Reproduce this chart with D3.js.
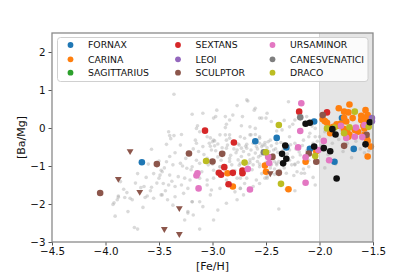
<!DOCTYPE html>
<html>
<head>
<meta charset="utf-8">
<script src="https://cdn.jsdelivr.net/npm/d3@7"></script>
<style>
  body { margin: 0; background: #fff; }
  text { font-family: "DejaVu Sans", sans-serif; }
</style>
</head>
<body>
<div id="chart"></div>
<script>
// Dados: pares [Fe/H, Ba/Mg]
const fornax = [[-3.66,-0.90],[-2.60,-0.35],[-2.40,-0.26],[-2.31,-0.51],[-2.09,-0.55],[-2.05,0.17],
  [-1.86,-0.89],[-1.68,-0.55],[-1.79,0.26],[-1.56,0.15]];
const carina = [[-2.86,-1.19],[-2.81,-1.54],[-2.51,-0.99],[-2.50,-1.15],[-2.29,-1.61],[-2.13,-0.89],
  [-2.03,-0.61],[-1.97,0.23],[-1.95,0.18],[-1.93,0.14],[-1.82,0.52],[-1.77,0.43],[-1.72,0.62],
  [-1.73,0.41],[-1.57,0.47],[-1.55,0.34],[-1.58,0.27],[-1.54,0.24],[-1.57,0.17],[-1.61,0.32],
  [-1.61,0.21],[-1.77,0.27],[-1.75,0.17],[-1.91,0.01],[-1.87,0.03],[-1.83,0.06],[-1.80,0.12],
  [-1.77,-0.03],[-1.74,-0.10],[-1.66,-0.01],[-1.64,-0.10],[-1.67,-0.05],[-1.59,0.06],[-1.58,-0.01],
  [-1.73,-0.23],[-1.72,-0.18],[-1.58,-0.18],[-1.56,-0.27],[-1.55,-0.34],[-1.55,-0.75],[-1.52,-0.49],
  [-1.90,-0.14],[-1.69,0.26],[-1.84,0.10]];
const sagittarius = [];
const sextans = [[-3.07,-0.07],[-2.80,-0.38],[-2.89,-1.03],[-2.94,-1.18],[-2.92,-1.23],[-2.81,-1.18],
  [-2.72,-1.12],[-2.72,-1.19],[-2.85,-1.48],[-2.19,0.43],[-1.93,0.41]];
const leoI = [[-1.51,0.18],[-1.51,0.26]];
const sculptor = [[-4.05,-1.71],[-3.52,-0.95],[-3.22,-0.67],[-2.91,-0.68],[-3.00,-0.88],[-2.44,-0.76],
  [-2.38,-1.18],[-2.10,-0.67],[-2.03,-0.89],[-1.97,0.34],[-1.77,-0.47],[-1.56,-0.18]];
// limites superiores (triângulos)
const sculptorLimits = [[-3.77,-0.61],[-3.88,-1.34],[-3.68,-1.68],[-3.31,-2.11],[-3.45,-2.66],
  [-3.31,-2.79],[-2.46,-1.19]];
const ursaMinor = [[-3.14,-1.19],[-3.15,-1.25],[-3.13,-1.59],[-2.67,-1.08],[-2.65,-1.62],[-2.48,-0.76],
  [-2.47,-0.92],[-2.18,-0.08],[-2.20,-0.51],[-2.17,0.65],[-2.13,-0.77],[-2.13,-1.44],[-2.01,-0.58],
  [-1.96,-0.34],[-1.91,-0.85],[-1.80,0.06],[-1.66,0.01],[-1.58,0.08],[-1.67,-0.23],[-1.75,-0.26],
  [-1.60,-0.24]];
const canesVenatici = [[-2.52,-0.64],[-2.18,0.28]];
const draco = [[-3.06,-0.87],[-2.70,-0.91],[-2.50,-0.64],[-2.38,0.08],[-2.36,-1.47],[-2.04,-0.74],
  [-1.93,-0.01],[-1.86,0.01],[-1.67,0.43],[-1.72,0.02],[-1.54,0.03],[-1.77,-0.14]];
// estrelas pretas (sem legenda)
const otherStars = [[-2.32,-0.46],[-2.35,-0.68],[-2.31,-0.81],[-2.34,-0.93],[-2.13,0.11],[-2.09,0.14],
  [-2.05,-0.49],[-1.96,-0.53],[-1.90,-0.61],[-1.84,-1.33],[-1.85,-0.17],[-1.57,-0.43],[-1.53,0.15],
  [-1.88,-0.03]];
// amostra de fundo (cinza claro)
const background = [
  [-3.57,-0.56],[-3.50,-0.87],[-3.86,-1.41],[-3.83,-1.61],[-3.64,-1.54],[-3.67,-1.57],[-3.88,-1.79],
  [-3.88,-1.82],[-3.82,-1.83],[-3.77,-1.85],[-3.75,-1.89],[-3.89,-1.89],[-3.92,-1.97],[-3.93,-2.01],
  [-3.61,-1.79],[-3.63,-1.83],[-3.57,-1.56],[-3.55,-1.85],[-3.79,-2.20],[-3.65,-2.09],[-3.91,-2.32],
  [-3.73,-2.62],[-3.70,-2.66],[-3.50,-1.32],[-3.49,-1.24],[-3.48,-1.11],[-3.48,-1.76],[-3.37,-2.03],
  [-3.26,-2.42],[-3.19,-1.94],[-3.23,-2.20],[-3.12,-2.66],
  [-3.36,0.89],[-3.19,0.36],[-2.97,0.30],[-2.77,0.59],[-2.67,0.71],[-2.61,0.47],[-2.72,0.30],
  [-2.56,0.26],[-2.50,0.26],[-2.84,0.21],[-2.87,0.10],[-2.88,0.01],[-2.73,0.06],[-2.65,0.03],
  [-2.60,-0.01],[-3.41,-0.10],[-3.40,-0.20],[-3.36,-0.20],[-3.43,-0.43],[-3.29,-0.17],[-3.15,-0.01],
  [-3.12,-0.10],[-3.02,-0.26],[-3.00,-0.36],[-2.98,-0.34],[-3.03,-0.40],[-2.98,-0.47],[-3.16,-0.32],
  [-3.15,-0.40],[-2.87,-0.32],[-2.84,-0.18],[-2.88,-0.18],[-2.70,-0.27],[-2.68,-0.43],[-2.75,-0.45],
  [-2.73,-0.53],[-2.64,-0.18],[-2.60,-0.17],[-2.56,-0.23],[-2.56,-0.40],[-2.54,-0.49],[-2.51,-0.45],
  [-2.48,-0.36],
  [-2.68,0.74],[-2.29,0.69],[-2.54,0.26],[-2.60,0.52],[-2.88,0.30],[-2.96,0.47],[-2.99,0.26],
  [-2.81,0.34],[-2.49,0.39],[-2.45,0.17],[-2.35,-0.05],[-2.28,0.03],[-2.23,0.21],[-2.18,-0.10],
  [-2.09,-0.14],[-2.04,-0.01],[-2.00,-0.23],[-3.09,0.39],[-3.14,0.06],[-3.39,-0.28],
  [-3.43,-0.89],[-3.37,-0.97],[-3.30,-0.93],[-3.24,-1.06],[-3.19,-1.02],[-3.12,-0.93],[-3.04,-0.97],
  [-2.99,-1.11],[-2.93,-1.02],[-2.82,-0.97],[-2.74,-0.93],[-2.65,-0.91],[-2.56,-0.95],[-3.47,-1.15],
  [-3.40,-1.24],[-3.32,-1.28],[-3.26,-1.32],[-3.21,-1.37],[-3.12,-1.32],[-3.05,-1.37],[-2.99,-1.32],
  [-2.87,-1.37],[-2.77,-1.32],[-2.68,-1.32],[-2.59,-1.37],[-2.51,-1.32],[-3.46,-1.46],[-3.41,-1.50],
  [-3.35,-1.54],[-3.29,-1.50],[-3.23,-1.59],[-3.05,-1.50],[-3.01,-1.63],[-2.93,-1.59],[-2.74,-1.59],
  [-2.62,-1.54],[-2.56,-1.46],[-3.47,-1.76],[-3.42,-1.89],[-3.35,-1.81],[-3.27,-1.72],[-3.19,-1.94],
  [-3.12,-1.94],[-3.02,-1.76],[-2.95,-2.16],[-2.87,-1.98],[-2.77,-1.89],[-2.71,-1.76],[-3.23,-2.24],
  [-3.18,-2.29],[-3.09,-2.07],
  [-3.05,-0.23],[-2.99,-0.32],[-2.93,-0.18],[-2.84,-0.27],[-2.74,-0.23],[-2.65,-0.18],[-2.56,-0.27],
  [-2.46,-0.32],[-2.40,-0.40],[-3.09,-0.49],[-3.01,-0.58],[-2.87,-0.53],[-2.77,-0.58],[-2.68,-0.53],
  [-2.59,-0.49],[-2.53,-0.45],[-2.43,-0.58],[-2.28,-0.58],[-2.23,-0.40],[-2.15,-0.32],[-2.10,-0.23],
  [-2.28,-0.23],[-2.95,-0.76],[-2.84,-0.80],[-2.76,-0.84],[-2.62,-0.80],[-2.57,-0.76],[-2.42,-0.89],
  [-2.62,-0.97],[-2.56,-1.02],[-2.49,-1.28],[-2.74,-1.32],[-2.70,-1.46],[-2.40,-0.97],[-2.23,-0.97],
  [-2.18,-0.71],[-2.10,-1.02],[-2.06,-0.40],[-2.04,-0.23],[-2.21,-1.15],[-2.17,-1.19],[-2.37,-1.11],
  [-2.31,-1.19],[-2.74,-1.59],[-2.79,-1.68],[-2.99,-2.42],[-2.38,-2.13],[-2.65,-0.84],[-2.93,-1.02],
  [-2.45,-0.97],[-2.40,-0.93],[-2.26,-0.97],[-2.23,-0.95],[-2.14,-1.19],[-2.31,-1.61],[-2.23,-1.65],
  [-2.04,-1.50],[-2.45,-1.19],[-2.49,-1.32],[-2.42,-1.08],
  [-3.18,-0.55],[-3.13,-0.62],[-3.08,-0.70],[-3.02,-0.48],[-2.97,-0.60],[-2.95,-0.42],[-2.91,-0.52],
  [-2.89,-0.66],[-2.86,-0.45],[-2.83,-0.72],[-2.80,-0.55],[-2.78,-0.65],[-2.76,-0.42],[-2.73,-0.75],
  [-2.71,-0.62],[-2.69,-0.48],[-2.66,-0.70],[-2.64,-0.58],[-2.62,-0.40],[-2.60,-0.66],[-2.58,-0.55],
  [-2.55,-0.72],[-2.53,-0.60],[-2.51,-0.38],[-2.49,-0.52],[-2.47,-0.62],[-2.45,-0.47],[-2.43,-0.70],
  [-2.41,-0.55],[-2.39,-0.64],[-2.36,-0.38],[-2.34,-0.57],[-2.30,-0.68],[-2.27,-0.44],[-2.25,-0.77],
  [-2.22,-0.55],[-2.19,-0.63],[-2.16,-0.46],[-2.12,-0.60],[-2.08,-0.70],[-2.05,-0.58],[-2.02,-0.35],
  [-3.25,-0.80],[-3.20,-1.10],[-3.15,-0.85],[-3.10,-1.15],[-3.05,-0.80],[-3.00,-0.95],[-2.96,-1.20],
  [-2.92,-0.85],[-2.88,-1.05],[-2.84,-0.88],[-2.79,-1.12],[-2.75,-0.98],[-2.70,-1.18],[-2.67,-0.95],
  [-2.63,-1.10],[-2.58,-0.88],[-2.54,-1.20],[-2.50,-0.90],[-2.46,-1.05],[-2.42,-1.22],[-2.38,-0.88],
  [-2.33,-1.05],[-2.28,-0.85],[-2.24,-1.25],[-2.20,-0.90],[-2.15,-1.08],[-2.10,-0.85],[-2.06,-1.30],
  [-3.35,-0.65],[-3.30,-0.45],[-3.28,-1.00],[-3.40,-0.75],[-3.45,-1.05],[-3.55,-1.20],[-3.60,-0.95],
  [-3.38,-1.40],[-3.52,-1.45],[-3.62,-1.30],[-3.70,-1.20],[-3.72,-1.45],[-3.58,-1.65],[-3.80,-1.70],
  [-3.44,-1.65],
  [-2.40,-0.08],[-2.33,0.20],[-2.25,0.10],[-2.12,0.30],[-2.07,0.05],[-2.20,0.45],
  [-1.98,-0.45],[-1.95,-0.10],[-1.92,-0.70],[-1.88,-0.40],[-1.85,-0.95],[-1.82,-0.30],[-1.78,-0.62],
  [-1.74,-0.40],[-1.70,-0.78],[-1.66,-0.35],[-1.62,-0.55],[-1.58,-0.65],[-1.54,-0.60],[-1.95,-1.05],
  [-1.80,-0.05],[-1.60,-0.10]
];

const galaxyNames = ['FORNAX', 'CARINA', 'SAGITTARIUS', 'SEXTANS', 'LEOI', 'SCULPTOR',
  'URSAMINOR', 'CANESVENATICI', 'DRACO'];
const galaxyData = [fornax, carina, sagittarius, sextans, leoI, sculptor, ursaMinor, canesVenatici, draco];
const xTicks = [-4.5, -4.0, -3.5, -3.0, -2.5, -2.0, -1.5];
const yTicks = [-3, -2, -1, 0, 1, 2];
const shadeRange = [-2.0, -1.5];

// Cores (paleta tab10)
const colors = ['#1f77b4', '#ff7f0e', '#2ca02c', '#d62728', '#9467bd', '#8c564b',
  '#e377c2', '#7f7f7f', '#bcbd22'];

// Configurações
const margin = { top: 33, right: 42, bottom: 35, left: 52 };
const totalW = 415, totalH = 277;
const width = totalW - margin.left - margin.right;
const height = totalH - margin.top - margin.bottom;

const svg = d3.select('#chart')
  .append('svg')
  .attr('width', totalW)
  .attr('height', totalH)
  .append('g')
  .attr('transform', `translate(${margin.left},${margin.top})`);

// Escalas
const x = d3.scaleLinear().domain([-4.5, -1.5]).range([0, width]);
const y = d3.scaleLinear().domain([-3, 2.5]).range([height, 0]);

// Faixa sombreada
svg.append('rect')
  .attr('x', x(shadeRange[0]))
  .attr('y', 0)
  .attr('width', x(shadeRange[1]) - x(shadeRange[0]))
  .attr('height', height)
  .attr('fill', '#e5e5e5');
svg.append('line')
  .attr('x1', x(shadeRange[0])).attr('x2', x(shadeRange[0]))
  .attr('y1', 0).attr('y2', height)
  .attr('stroke', '#d6d6d6').attr('stroke-width', 1);

// Pontos de fundo
svg.append('g').selectAll('circle')
  .data(background)
  .enter()
  .append('circle')
  .attr('cx', d => x(d[0]))
  .attr('cy', d => y(d[1]))
  .attr('r', 1.8)
  .attr('fill', '#a8a8a8')
  .attr('opacity', 0.42);

// Galáxias
galaxyData.forEach((data, i) => {
  svg.append('g').selectAll('circle')
    .data(data)
    .enter()
    .append('circle')
    .attr('cx', d => x(d[0]))
    .attr('cy', d => y(d[1]))
    .attr('r', 3.3)
    .attr('fill', colors[i]);
});

// Limites superiores (Sculptor)
const tri = d3.symbol().type(d3.symbolTriangle).size(20);
svg.append('g').selectAll('path')
  .data(sculptorLimits)
  .enter()
  .append('path')
  .attr('d', tri)
  .attr('transform', d => `translate(${x(d[0])},${y(d[1])}) rotate(180)`)
  .attr('fill', colors[5]);

// Estrelas pretas
svg.append('g').selectAll('circle')
  .data(otherStars)
  .enter()
  .append('circle')
  .attr('cx', d => x(d[0]))
  .attr('cy', d => y(d[1]))
  .attr('r', 3.3)
  .attr('fill', '#111');

// Eixos
const xAxis = svg.append('g')
  .attr('transform', `translate(0,${height})`)
  .call(d3.axisBottom(x).tickValues(xTicks).tickSize(3.5).tickPadding(2.5)
    .tickFormat(d => d3.format('.1f')(d).replace('-', '\u2212')));
const yAxis = svg.append('g')
  .call(d3.axisLeft(y).tickValues(yTicks).tickSize(3.5).tickPadding(3)
    .tickFormat(d => String(d).replace('-', '\u2212')));

[xAxis, yAxis].forEach(a => {
  a.select('.domain').remove();
  a.selectAll('line').attr('stroke', '#555');
  a.selectAll('text').attr('fill', '#111').style('font-size', '10.3px')
    .style('font-family', '"DejaVu Sans", sans-serif');
});

// Moldura
svg.append('rect')
  .attr('width', width)
  .attr('height', height)
  .attr('fill', 'none')
  .attr('stroke', '#8a8a8a')
  .attr('stroke-width', 1.3);

// Legenda
const legend = svg.append('g').attr('transform', 'translate(5.5,4.5)');
legend.append('rect')
  .attr('width', 310.5).attr('height', 44).attr('rx', 3)
  .attr('fill', '#fff').attr('fill-opacity', 0.85)
  .attr('stroke', '#d0d0d0').attr('stroke-width', 1);
const colX = [13, 120.5, 215];
const rowY = [7.5, 21.8, 35.2];
galaxyNames.forEach((name, i) => {
  const c = Math.floor(i / 3), r = i % 3;
  legend.append('circle')
    .attr('cx', colX[c]).attr('cy', rowY[r]).attr('r', 2.9)
    .attr('fill', colors[i]);
  legend.append('text')
    .attr('x', colX[c] + 17.5).attr('y', rowY[r])
    .attr('dy', '0.35em')
    .style('font-size', '9.3px')
    .attr('fill', '#111')
    .text(name);
});

// Labels dos eixos
svg.append('text')
  .attr('x', width / 2)
  .attr('y', height + 27.5)
  .style('text-anchor', 'middle')
  .style('font-size', '11px')
  .attr('fill', '#111')
  .text('[Fe/H]');

svg.append('text')
  .attr('transform', 'rotate(-90)')
  .attr('x', -height / 2)
  .attr('y', -27)
  .style('text-anchor', 'middle')
  .style('font-size', '11px')
  .attr('fill', '#111')
  .text('[Ba/Mg]');
</script>
</body>
</html>
